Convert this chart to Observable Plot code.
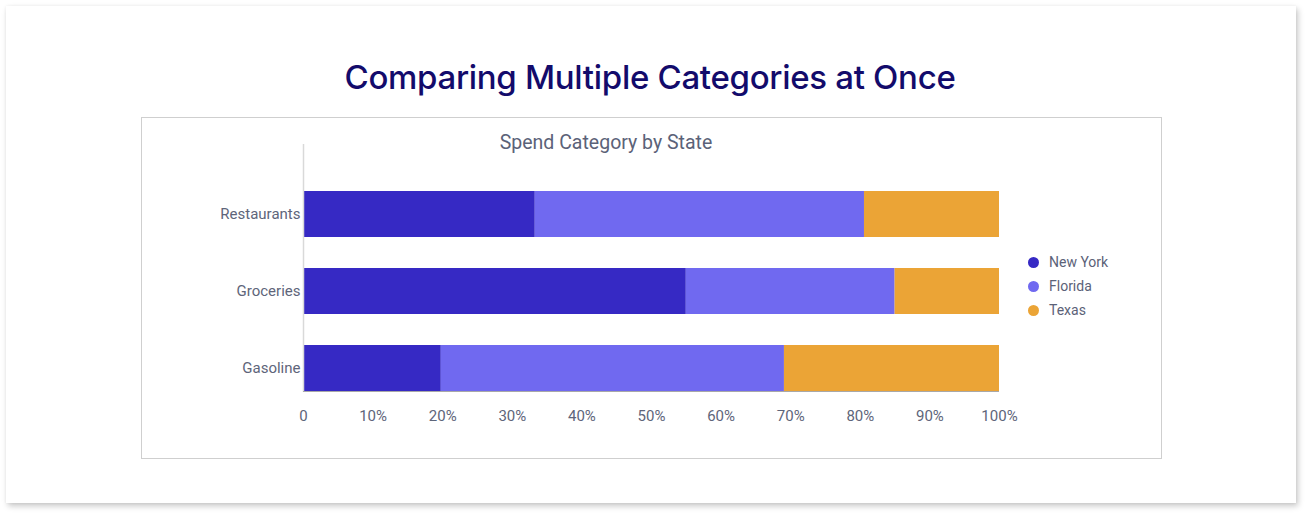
<!DOCTYPE html>
<html>
<head>
<meta charset="utf-8">
<script src="https://cdn.jsdelivr.net/npm/d3@7"></script>
<script src="https://cdn.jsdelivr.net/npm/@observablehq/plot@0.6"></script>
<style>
  html, body { margin: 0; padding: 0; background: #ffffff; }
  body { width: 1310px; height: 518px; position: relative; overflow: hidden; font-family: Roboto, "Noto Sans", sans-serif; }
  .card { position: absolute; left: 6px; top: 6px; width: 1290px; height: 497px; background: #fff;
          box-shadow: 2px 3px 6px rgba(0,0,0,0.22), 0 0 3px rgba(0,0,0,0.05); }
  .title { position: absolute; left: 0; width: 1300px; top: 57px; text-align: center;
           font-family: Inter, sans-serif; font-weight: 500; font-size: 33px; color: #130b6b; letter-spacing: -0.3px; }
  .panel { position: absolute; left: 141px; top: 117px; width: 1019px; height: 340px; border: 1px solid #cfcfcf; }
  .subtitle { position: absolute; left: 406px; width: 400px; top: 131px; text-align: center;
              font-size: 19.5px; color: #5b6278; }
  #chart { position: absolute; left: 141px; top: 117px; }
  .legend { position: absolute; left: 1028px; top: 252px; font-size: 14px; color: #5b6278; }
  .legend div { height: 24px; display: flex; align-items: center; position: relative; top: -2px; }
  .legend span.dot { width: 11px; height: 11px; border-radius: 50%; display: inline-block; margin-right: 10px; }
</style>
</head>
<body>
<div class="card"></div>
<div class="title">Comparing Multiple Categories at Once</div>
<div class="panel"></div>
<div class="subtitle">Spend Category by State</div>
<div id="chart"></div>
<div class="legend" id="legend"></div>
<script>
// Spend categories (rows) and states (stacked segments)
const categories = ["Restaurants", "Groceries", "Gasoline"];
const states = ["New York", "Florida", "Texas"];
// Share of each category's spend, in percent
const newYork = [33.3, 55, 19.8];
const florida = [47.3, 30, 49.3];
const texas = [19.4, 15, 30.9];
const stateColors = ["#3629c4", "#7069f0", "#eba436"];
const xTicks = [0, 10, 20, 30, 40, 50, 60, 70, 80, 90, 100];

const seriesByState = [newYork, florida, texas];
const rows = [];
states.forEach((state, s) => {
  categories.forEach((category, c) => {
    rows.push({category, state, value: seriesByState[s][c]});
  });
});

const chart = Plot.plot({
  width: 1020,
  height: 341,
  marginLeft: 162,
  marginRight: 162,
  marginTop: 27,
  marginBottom: 66,
  style: {fontFamily: "Roboto, sans-serif", fontSize: "15px", color: "#5e657a", background: "transparent", overflow: "visible"},
  x: {domain: [0, 100], ticks: xTicks, tickFormat: d => d === 0 ? "0" : `${d}%`, tickSize: 0, tickPadding: 18, label: null},
  y: {domain: categories, range: [58.25, 290.75], padding: 0.4, paddingOuter: 0.2, tickSize: 0, tickPadding: 3, label: null},
  color: {domain: states, range: stateColors},
  marks: [
    Plot.barX(rows, Plot.stackX({y: "category", x: "value", fill: "state", order: null})),
    Plot.ruleX([0], {stroke: "#d9d9d9", strokeWidth: 1.5}),
    Plot.ruleY(["Gasoline"], {dy: 23, stroke: "#a8a8a8", strokeWidth: 1})
  ]
});
document.getElementById("chart").appendChild(chart);

// Legend on the right
const legend = document.getElementById("legend");
states.forEach((state, i) => {
  const item = document.createElement("div");
  const dot = document.createElement("span");
  dot.className = "dot";
  dot.style.background = stateColors[i];
  item.appendChild(dot);
  item.appendChild(document.createTextNode(state));
  legend.appendChild(item);
});
</script>
</body>
</html>
